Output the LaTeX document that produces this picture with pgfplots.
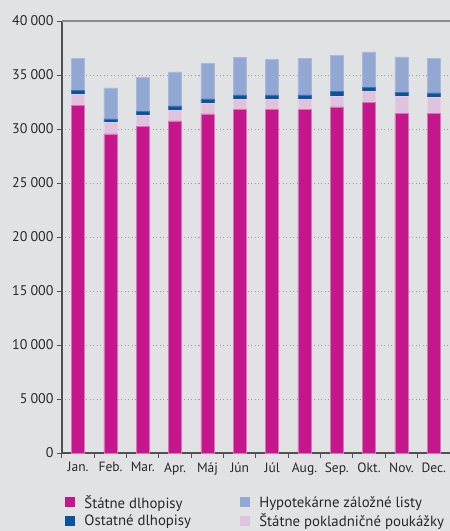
\documentclass[border=0pt]{standalone}
\usepackage{pgfplots}
\pgfplotsset{compat=1.18}
\usepackage{fontspec}
\setmainfont{PT Sans}
\definecolor{bg}{RGB}{225,226,228}
\definecolor{sd}{RGB}{197,22,140}
\definecolor{spp}{RGB}{224,194,220}
\definecolor{od}{RGB}{10,83,158}
\definecolor{hzl}{RGB}{146,167,210}
\definecolor{txt}{RGB}{40,40,40}
\definecolor{axc}{RGB}{80,80,80}
\begin{document}
\begin{tikzpicture}
\fill[bg] (0,0) rectangle (450pt,531pt);
\path[use as bounding box] (0,0) rectangle (450pt,531pt);
\begin{axis}[
  at={(62pt,78pt)}, anchor=south west,
  scale only axis, width=388pt, height=432pt,
  ybar stacked, bar width=13pt,
  xmin=-0.5, xmax=11.5, ymin=0, ymax=40000,
  xtick={-0.5,0.5,...,11.5},
  x tick label as interval,
  xticklabels={Jan.,Feb.,Mar.,Apr.,Máj,Jún,Júl,Aug.,Sep.,Okt.,Nov.,Dec.},
  ytick={0,5000,...,40000},
  scaled y ticks=false,
  /pgf/number format/.cd, 1000 sep={\kern0.22em}, assume math mode=true,
  /pgfplots/.cd,
  axis x line*=bottom, axis y line*=left,
  axis line style={axc, line width=1.3pt},
  tick align=outside, major tick length=5pt,
  tick style={axc, line width=1pt},
  ymajorgrids, major grid style={gray!75, line width=0.9pt, dash pattern=on 1pt off 2.5pt},
  tick label style={font=\fontsize{14}{16}\selectfont, text=txt},
  xticklabel style={font=\fontsize{13.5}{16}\selectfont, yshift=-1pt},
  clip=false,
  legend columns=2,
  legend cell align=left,
  legend style={draw=none, fill=none, at={(axis description cs:0.0,-0.088)}, anchor=north west,
    font=\fontsize{14.8}{16}\selectfont, text=txt, row sep=0pt,
    /tikz/every even column/.append style={column sep=47pt}},
  legend image code/.code={\fill[#1, draw=none] (0pt,-5pt) rectangle (10pt,5pt); \path (17pt,0pt);},
]
\addplot[fill=sd, draw=sd!60!white, line width=0.5pt, forget plot] coordinates {
(0,32200) (1,29550) (2,30250) (3,30750) (4,31400) (5,31800) (6,31800) (7,31800) (8,32050) (9,32450) (10,31450) (11,31450)};
\addplot[fill=spp, draw=spp!80!white, line width=0.5pt, forget plot] coordinates {
(0,1000) (1,1050) (2,980) (3,1000) (4,950) (5,950) (6,950) (7,950) (8,1000) (9,1000) (10,1550) (11,1500)};
\addplot[fill=od, draw=od!80!white, line width=0.5pt, forget plot] coordinates {
(0,400) (1,330) (2,400) (3,400) (4,430) (5,400) (6,420) (7,420) (8,400) (9,400) (10,370) (11,400)};
\addplot[fill=hzl, draw=hzl!80!white, line width=0.5pt, forget plot] coordinates {
(0,2950) (1,2870) (2,3120) (3,3150) (4,3270) (5,3450) (6,3300) (7,3350) (8,3350) (9,3300) (10,3300) (11,3200)};
\addlegendimage{fill=sd}\addlegendentry{Štátne dlhopisy}
\addlegendimage{fill=hzl}\addlegendentry{Hypotekárne záložné listy}
\addlegendimage{fill=od}\addlegendentry{Ostatné dlhopisy}
\addlegendimage{fill=spp}\addlegendentry{Štátne pokladničné poukážky}
\draw[gray!90, line width=1.3pt] (rel axis cs:0,1) -- (rel axis cs:1,1);
\end{axis}
\end{tikzpicture}
\end{document}
